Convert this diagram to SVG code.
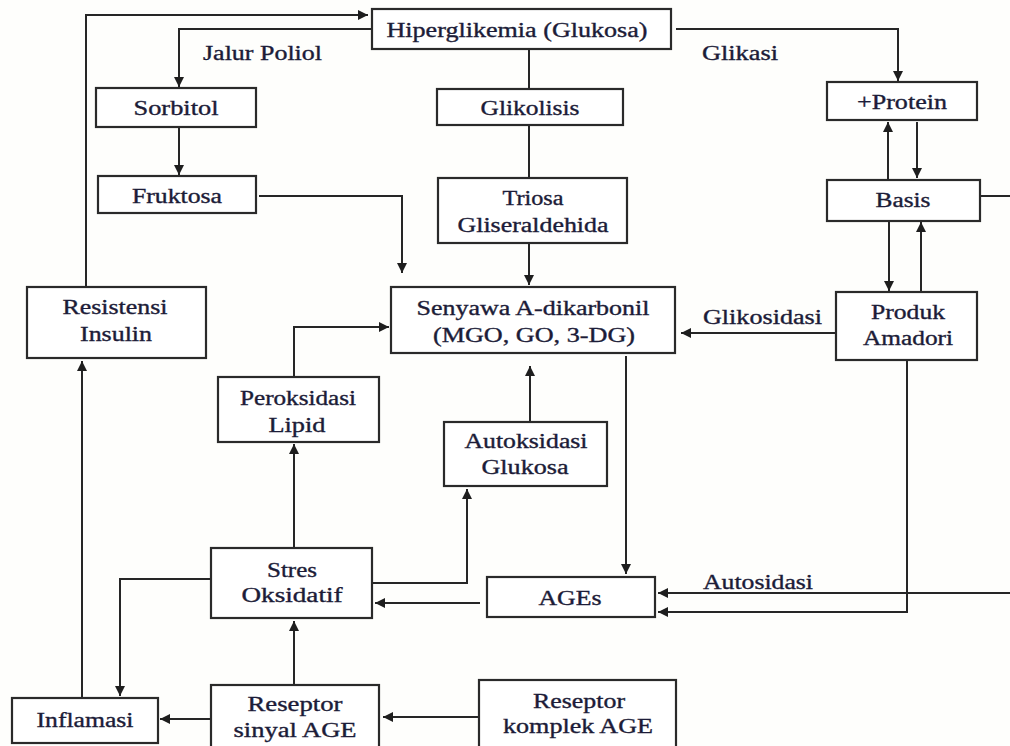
<svg xmlns="http://www.w3.org/2000/svg" width="1010" height="746" viewBox="0 0 1010 746">
<defs>
<marker id="ah" markerUnits="userSpaceOnUse" markerWidth="10" markerHeight="10" refX="10" refY="5" orient="auto">
<path d="M0,0 L10,5 L0,10 z" fill="#1e1e1e"/>
</marker>
<style>
.box{fill:#ffffff;stroke:#2a2a2a;stroke-width:2.2}
.t{font-family:"Liberation Serif","Times New Roman",serif;font-size:20px;fill:#1c1c38;text-anchor:middle;stroke:#1c1c38;stroke-width:0.35}
.lbl{font-family:"Liberation Serif","Times New Roman",serif;font-size:20px;fill:#1c1c38;stroke:#1c1c38;stroke-width:0.35}
.c{fill:none;stroke:#262626;stroke-width:2}
.a{marker-end:url(#ah)}
</style>
</defs>
<rect width="1010" height="746" fill="#fefefc"/>
<g id="connectors">
<path class="c a" d="M86,287 V15 H368"/>
<path class="c a" d="M372,29 H179 V87"/>
<path class="c a" d="M179,127 V175"/>
<path class="c a" d="M259,196 H402 V273"/>
<path class="c" d="M529,49 V89"/>
<path class="c" d="M529,125 V178"/>
<path class="c a" d="M529,243 V285"/>
<path class="c a" d="M676,29 H898 V81"/>
<path class="c a" d="M888,180 V122"/>
<path class="c a" d="M917,122 V178"/>
<path class="c" d="M980,196 H1010"/>
<path class="c a" d="M889,221 V291"/>
<path class="c a" d="M921,292 V222"/>
<path class="c a" d="M836,333 H681"/>
<path class="c a" d="M907,360 V612 H658"/>
<path class="c a" d="M1010,593 H658"/>
<path class="c a" d="M626,356 V574"/>
<path class="c a" d="M530,422 V366"/>
<path class="c a" d="M294,377 V327 H389"/>
<path class="c a" d="M294,548 V444"/>
<path class="c a" d="M373,583 H467 V489"/>
<path class="c a" d="M480,603 H375"/>
<path class="c a" d="M211,579 H120 V696"/>
<path class="c a" d="M82,698 V361"/>
<path class="c a" d="M211,719 H160"/>
<path class="c a" d="M294,685 V621"/>
<path class="c a" d="M479,717 H383"/>
</g>
<g id="labels">
<text class="lbl" x="203" y="60" textLength="119" lengthAdjust="spacingAndGlyphs">Jalur Poliol</text>
<text class="lbl" x="702" y="60" textLength="76" lengthAdjust="spacingAndGlyphs">Glikasi</text>
<text class="lbl" x="703" y="324" textLength="119" lengthAdjust="spacingAndGlyphs">Glikosidasi</text>
<text class="lbl" x="703" y="589" textLength="110" lengthAdjust="spacingAndGlyphs">Autosidasi</text>
</g>
<g id="hiperglikemia">
<rect class="box" x="372" y="9" width="299" height="40"/>
<text class="t" x="517" y="37" textLength="261" lengthAdjust="spacingAndGlyphs">Hiperglikemia (Glukosa)</text>
</g>
<g id="sorbitol">
<rect class="box" x="96" y="88" width="160" height="39"/>
<text class="t" x="176" y="115" textLength="85" lengthAdjust="spacingAndGlyphs">Sorbitol</text>
</g>
<g id="fruktosa">
<rect class="box" x="98" y="176" width="158" height="37"/>
<text class="t" x="177" y="203" textLength="90" lengthAdjust="spacingAndGlyphs">Fruktosa</text>
</g>
<g id="glikolisis">
<rect class="box" x="437" y="89" width="186" height="36"/>
<text class="t" x="530" y="115" textLength="99" lengthAdjust="spacingAndGlyphs">Glikolisis</text>
</g>
<g id="triosa">
<rect class="box" x="438" y="178" width="189" height="65"/>
<text class="t" x="533" y="205" textLength="61" lengthAdjust="spacingAndGlyphs">Triosa</text>
<text class="t" x="533" y="232" textLength="151" lengthAdjust="spacingAndGlyphs">Gliseraldehida</text>
</g>
<g id="protein">
<rect class="box" x="827" y="82" width="150" height="38"/>
<text class="t" x="902" y="109" textLength="90" lengthAdjust="spacingAndGlyphs">+Protein</text>
</g>
<g id="basis">
<rect class="box" x="827" y="180" width="153" height="41"/>
<text class="t" x="903" y="207" textLength="55" lengthAdjust="spacingAndGlyphs">Basis</text>
</g>
<g id="resistensi">
<rect class="box" x="27" y="287" width="179" height="71"/>
<text class="t" x="115" y="314" textLength="105" lengthAdjust="spacingAndGlyphs">Resistensi</text>
<text class="t" x="116" y="341" textLength="72" lengthAdjust="spacingAndGlyphs">Insulin</text>
</g>
<g id="senyawa">
<rect class="box" x="391" y="287" width="284" height="66"/>
<text class="t" x="533" y="315" textLength="233" lengthAdjust="spacingAndGlyphs">Senyawa A-dikarbonil</text>
<text class="t" x="534" y="342" textLength="202" lengthAdjust="spacingAndGlyphs">(MGO, GO, 3-DG)</text>
</g>
<g id="produk">
<rect class="box" x="836" y="292" width="141" height="68"/>
<text class="t" x="908" y="319" textLength="74" lengthAdjust="spacingAndGlyphs">Produk</text>
<text class="t" x="908" y="345" textLength="90" lengthAdjust="spacingAndGlyphs">Amadori</text>
</g>
<g id="peroksidasi">
<rect class="box" x="218" y="377" width="161" height="65"/>
<text class="t" x="298" y="405" textLength="116" lengthAdjust="spacingAndGlyphs">Peroksidasi</text>
<text class="t" x="297" y="432" textLength="57" lengthAdjust="spacingAndGlyphs">Lipid</text>
</g>
<g id="autoksidasi">
<rect class="box" x="444" y="422" width="163" height="64"/>
<text class="t" x="526" y="448" textLength="123" lengthAdjust="spacingAndGlyphs">Autoksidasi</text>
<text class="t" x="525" y="474" textLength="87" lengthAdjust="spacingAndGlyphs">Glukosa</text>
</g>
<g id="stres">
<rect class="box" x="211" y="548" width="161" height="70"/>
<text class="t" x="292" y="577" textLength="50" lengthAdjust="spacingAndGlyphs">Stres</text>
<text class="t" x="292" y="602" textLength="101" lengthAdjust="spacingAndGlyphs">Oksidatif</text>
</g>
<g id="ages">
<rect class="box" x="487" y="577" width="168" height="40"/>
<text class="t" x="570" y="605" textLength="63" lengthAdjust="spacingAndGlyphs">AGEs</text>
</g>
<g id="inflamasi">
<rect class="box" x="12" y="698" width="146" height="45"/>
<text class="t" x="85" y="727" textLength="97" lengthAdjust="spacingAndGlyphs">Inflamasi</text>
</g>
<g id="reseptor-sinyal">
<rect class="box" x="211" y="685" width="168" height="70"/>
<text class="t" x="295" y="711" textLength="95" lengthAdjust="spacingAndGlyphs">Reseptor</text>
<text class="t" x="295" y="737" textLength="123" lengthAdjust="spacingAndGlyphs">sinyal AGE</text>
</g>
<g id="reseptor-komplek">
<rect class="box" x="479" y="680" width="197" height="75"/>
<text class="t" x="579" y="708" textLength="92" lengthAdjust="spacingAndGlyphs">Reseptor</text>
<text class="t" x="578" y="733" textLength="150" lengthAdjust="spacingAndGlyphs">komplek AGE</text>
</g>
</svg>
